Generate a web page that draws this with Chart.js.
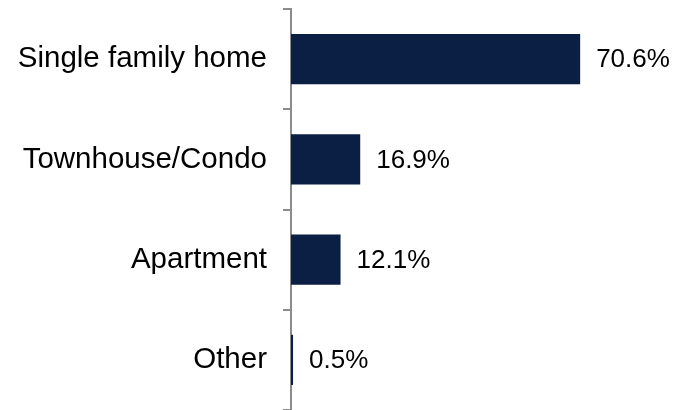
<!DOCTYPE html>
<html>
<head>
<meta charset="utf-8">
<script src="https://cdn.jsdelivr.net/npm/chart.js@4/dist/chart.umd.min.js"></script>
<style>
html,body{margin:0;padding:0;background:#fff;}
#wrap{width:676px;height:410px;position:relative;}
</style>
</head>
<body>
<div id="wrap"><canvas id="c" width="676" height="410"></canvas></div>
<script>
const categories = ["Single family home", "Townhouse/Condo", "Apartment", "Other"];
const values = [70.6, 16.9, 12.1, 0.5];
const valueLabels = ["70.6%", "16.9%", "12.1%", "0.5%"];

const FONT = "Arial, 'Liberation Sans', sans-serif";

const valueLabelPlugin = {
  id: 'valueLabels',
  afterDatasetsDraw(chart) {
    const ctx = chart.ctx;
    const meta = chart.getDatasetMeta(0);
    ctx.save();
    ctx.font = "26px " + FONT;
    ctx.fillStyle = "#000";
    ctx.textAlign = "left";
    ctx.textBaseline = "middle";
    meta.data.forEach((bar, i) => {
      ctx.fillText(valueLabels[i], bar.x + 16, bar.y + 1);
    });
    ctx.restore();
  }
};

new Chart(document.getElementById('c'), {
  type: 'bar',
  data: {
    labels: categories,
    datasets: [{
      data: values,
      backgroundColor: '#0b1f45',
      borderWidth: 0,
      categoryPercentage: 1.0,
      barPercentage: 0.5
    }]
  },
  options: {
    indexAxis: 'y',
    responsive: false,
    animation: false,
    layout: { padding: { top: 9, bottom: 0, left: 0, right: 0 } },
    plugins: { legend: { display: false }, tooltip: { enabled: false } },
    scales: {
      x: {
        display: false,
        min: 0,
        max: 94
      },
      y: {
        afterFit(scale) { scale.width = 291; scale.paddingTop = 0; scale.paddingBottom = 0; },
        border: { display: true, color: '#8c8c8c', width: 2 },
        grid: {
          display: true,
          drawOnChartArea: false,
          drawTicks: true,
          tickLength: 8,
          color: '#8c8c8c',
          lineWidth: 2,
          offset: true
        },
        ticks: {
          color: '#000',
          padding: 16,
          font: { family: FONT, size: 29.5 }
        }
      }
    }
  },
  plugins: [valueLabelPlugin]
});
</script>
</body>
</html>
